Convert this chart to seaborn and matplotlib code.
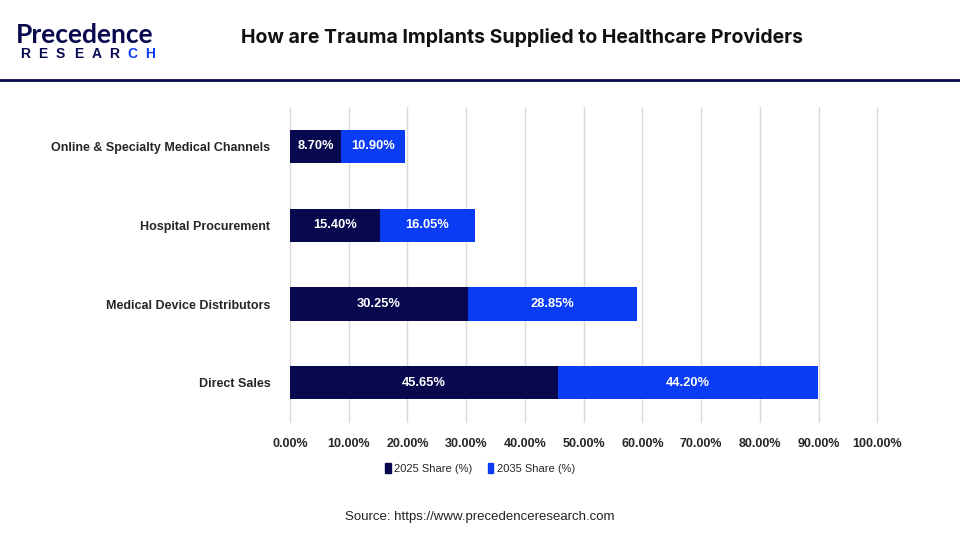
import pandas as pd
import seaborn as sns
import matplotlib.pyplot as plt
from matplotlib.patches import Patch

# Data
channels = ['Online & Specialty Medical Channels', 'Hospital Procurement',
            'Medical Device Distributors', 'Direct Sales']
share_2025 = [8.70, 15.40, 30.25, 45.65]
share_2035 = [10.90, 16.05, 28.85, 44.20]
ticks = [0, 10, 20, 30, 40, 50, 60, 70, 80, 90, 100]

navy = '#08084f'
blue = '#0a3cf5'

dtf = pd.DataFrame({'Channel': channels, 'S2025': share_2025, 'S2035': share_2035})
dtf['Total'] = dtf['S2025'] + dtf['S2035']

sns.set_style('white')
plt.rcParams['font.family'] = ['Liberation Sans', 'DejaVu Sans']

fig = plt.figure(figsize=(9.6, 5.4), dpi=100)
ax = fig.add_axes([0.302, 0.218, 0.612, 0.584])

# stacked bars: total first (2035 colour), then 2025 on top
sns.barplot(data=dtf, x='Total', y='Channel', color=blue, width=0.42,
            saturation=1, linewidth=0, ax=ax, zorder=2)
sns.barplot(data=dtf, x='S2025', y='Channel', color=navy, width=0.42,
            saturation=1, linewidth=0, ax=ax, zorder=3)

for i, (a, b) in enumerate(zip(share_2025, share_2035)):
    ax.text(a / 2, i, f'{a:.2f}%', color='white', fontsize=9.3,
            fontweight='bold', ha='center', va='center', zorder=4)
    ax.text(a + b / 2, i, f'{b:.2f}%', color='white', fontsize=9.3,
            fontweight='bold', ha='center', va='center', zorder=4)

ax.set_xlim(0, 100)
ax.set_ylim(3.5, -0.5)
ax.set_xticks(ticks)
ax.set_xticklabels([f'{t:.2f}%' for t in ticks], fontsize=9, fontweight='bold')
ax.tick_params(axis='y', labelsize=9, length=0, pad=14)
ax.tick_params(axis='x', length=0, pad=11)
for lbl in ax.get_yticklabels():
    lbl.set_fontweight('bold')
ax.set(xlabel=None, ylabel=None)
ax.grid(True, axis='x', color='#d9d9d9', linewidth=1, zorder=0)
for gl in ax.get_xgridlines():
    gl.set_clip_on(False)
ax.set_axisbelow(True)
for s in ax.spines.values():
    s.set_visible(False)

# legend
handles = [Patch(color=navy, label='2025 Share (%)'),
           Patch(color=blue, label='2035 Share (%)')]
fig.legend(handles=handles, loc='center', bbox_to_anchor=(0.50, 0.132),
           ncol=2, frameon=False, fontsize=8, handlelength=0.5,
           handleheight=0.9, handletextpad=0.3, columnspacing=1.4)

# title and header
fig.text(0.5435, 0.931, 'How are Trauma Implants Supplied to Healthcare Providers',
         ha='center', va='center', fontsize=14, fontweight='bold',
         color='#111111', family=['Inter', 'DejaVu Sans'])
fig.add_artist(plt.Line2D([0, 1], [0.851, 0.851], color=navy, linewidth=2))

# logo
fig.text(0.017, 0.935, 'Precedence', ha='left', va='center', fontsize=19,
         color=navy, fontweight='bold', family=['Lato', 'DejaVu Sans'])
for k, ch in enumerate('RESEARCH'):
    fig.text(0.021 + k * 0.0186, 0.900, ch, ha='left', va='center', fontsize=10,
             color=navy if k < 6 else blue, fontweight='bold')

fig.text(0.5, 0.042, 'Source: https://www.precedenceresearch.com', ha='center',
         va='center', fontsize=9.5, color='#222222')

fig.savefig('out.png', dpi=100)
